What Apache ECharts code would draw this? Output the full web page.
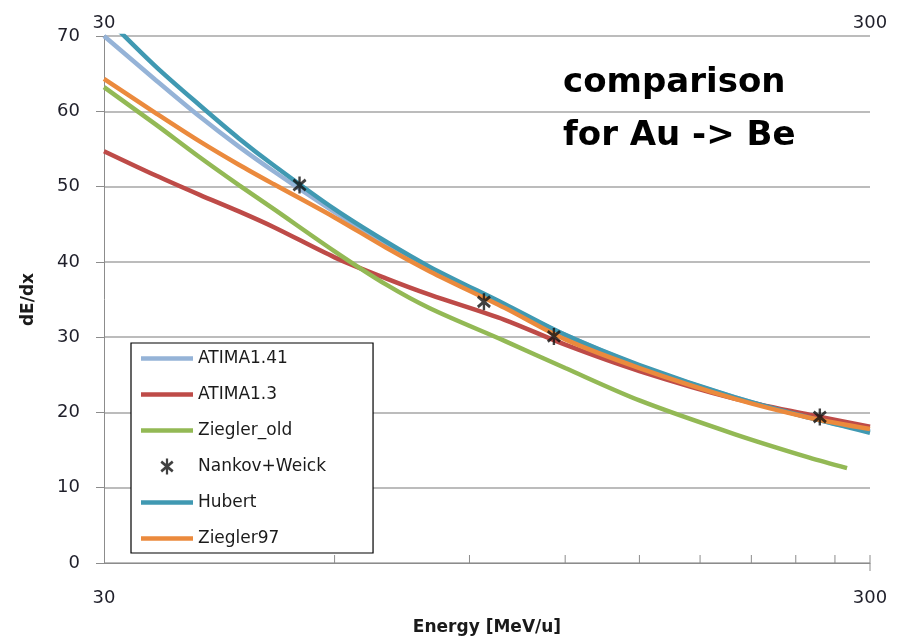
<!DOCTYPE html>
<html>
<head>
<meta charset="utf-8">
<script src="https://cdn.jsdelivr.net/npm/echarts@6/dist/echarts.min.js"></script>
<style>
html,body{margin:0;padding:0;background:#fff;}
#chart{width:908px;height:642px;}
</style>
</head>
<body>
<div id="chart"></div>
<script>
// ---- data ----
var energies = [30, 35, 40, 45, 50, 60, 70, 80, 100, 120, 150, 200, 250, 300];
var energiesOld = [30, 35, 40, 45, 50, 60, 70, 80, 100, 120, 150, 200, 250, 280];
var atima141 = [70.0, 64.2, 59.3, 55.3, 52.0, 46.6, 42.4, 39.1, 34.2, 30.3, 26.2, 22.0, 19.3, 17.5];
var atima13 = [54.7, 51.5, 48.9, 46.7, 44.6, 40.6, 37.8, 35.6, 32.3, 29.0, 25.5, 21.8, 19.7, 18.1];
var zieglerOld = [63.2, 58.3, 53.9, 50.2, 47.0, 41.4, 37.0, 33.8, 29.5, 25.9, 21.6, 17.1, 14.0, 12.6];
var hubert = [72.7, 66.0, 60.8, 56.4, 52.8, 47.0, 42.7, 39.3, 34.4, 30.3, 26.3, 22.0, 19.3, 17.3];
var ziegler97 = [64.3, 59.8, 56.0, 52.9, 50.3, 45.9, 41.9, 38.7, 33.9, 29.7, 25.9, 21.8, 19.3, 17.8];
var nankovE = [54, 94, 116, 258];
var nankovV = [50.2, 34.7, 30.1, 19.4];
var seriesNames = ['ATIMA1.41', 'ATIMA1.3', 'Ziegler_old', 'Nankov+Weick', 'Hubert', 'Ziegler97'];
var xLabels = [30, 300];
var minorTicks = [60, 90, 120, 150, 180, 210, 240, 270];
var titleLines = ['comparison', 'for Au -> Be'];

function pairs(xs, ys) { return xs.map(function (x, i) { return [x, ys[i]]; }); }

var FONT = 'DejaVu Sans';
var starPath = 'path://M43 0L57 0L57 100L43 100Z M19 12L91 74L81 88L9 26Z M81 12L91 26L19 88L9 74Z';
var lineIcon = 'path://M0 0L52 0L52 4.5L0 4.5Z';

function lineSeries(name, data, color) {
  return {
    name: name, type: 'line', data: data, smooth: 0.3,
    symbol: 'none', showSymbol: false, clip: true,
    lineStyle: { color: color, width: 4.5 }, itemStyle: { color: color },
    emphasis: { disabled: true }
  };
}

var chart = echarts.init(document.getElementById('chart'), null, { renderer: 'canvas' });
chart.setOption({
  animation: false,
  backgroundColor: '#ffffff',
  grid: { left: 104, right: 38, top: 36, bottom: 79, containLabel: false },
  xAxis: [{
    type: 'log', logBase: 10, min: 30, max: 300, position: 'bottom',
    name: 'Energy [MeV/u]', nameLocation: 'middle', nameGap: 56,
    nameTextStyle: { fontFamily: FONT, fontWeight: 'bold', fontSize: 17, color: '#1a1a1a' },
    axisLine: { show: true, lineStyle: { color: '#8c8c8c', width: 1 } },
    axisTick: { show: false },
    splitLine: { show: false },
    minorTick: { show: false },
    axisLabel: {
      show: true, showMinLabel: true, showMaxLabel: true, margin: 26,
      fontFamily: FONT, fontSize: 18, color: '#1f1f2a',
      formatter: function (v) { var r = Math.round(v); return xLabels.indexOf(r) >= 0 ? String(r) : ''; }
    }
  }, {
    type: 'log', logBase: 10, min: 30, max: 300, position: 'top',
    axisLine: { show: false }, axisTick: { show: false }, splitLine: { show: false },
    axisLabel: {
      show: true, showMinLabel: true, showMaxLabel: true, margin: 4,
      fontFamily: FONT, fontSize: 18, color: '#1f1f2a',
      formatter: function (v) { var r = Math.round(v); return xLabels.indexOf(r) >= 0 ? String(r) : ''; }
    }
  }],
  yAxis: {
    type: 'value', min: 0, max: 70, interval: 10,
    name: 'dE/dx', nameLocation: 'middle', nameGap: 67, nameRotate: 90,
    nameTextStyle: { fontFamily: FONT, fontWeight: 'bold', fontSize: 17, color: '#1a1a1a' },
    axisLine: { show: true, lineStyle: { color: '#8c8c8c', width: 1 } },
    axisTick: { show: true, inside: false, length: 8, lineStyle: { color: '#8c8c8c' } },
    splitLine: { show: true, lineStyle: { color: '#a6a6a6', width: 1.5 } },
    axisLabel: { margin: 24, fontFamily: FONT, fontSize: 18, color: '#1f1f2a' }
  },
  legend: {
    orient: 'vertical', left: 131, top: 343,
    padding: [7, 47, 6, 10], itemGap: 19, itemWidth: 52, itemHeight: 16,
    symbolKeepAspect: true,
    backgroundColor: '#ffffff', borderColor: '#000000', borderWidth: 1.2, borderRadius: 0,
    textStyle: { fontFamily: FONT, fontSize: 17, color: '#1b1b1b' },
    data: seriesNames.map(function (n, i) { return { name: n, icon: i === 3 ? starPath : lineIcon }; }),
    selectedMode: false, z: 10
  },
  graphic: [
    { type: 'text', left: 563, top: 66, z: 20,
      style: { text: titleLines[0], font: 'bold 34px "' + FONT + '"', fill: '#000' } },
    { type: 'text', left: 563, top: 119, z: 20,
      style: { text: titleLines[1], font: 'bold 34px "' + FONT + '"', fill: '#000' } }
  ],
  series: [
    lineSeries(seriesNames[0], pairs(energies, atima141), '#95B3D7'),
    lineSeries(seriesNames[1], pairs(energies, atima13), '#BE4B48'),
    lineSeries(seriesNames[2], pairs(energiesOld, zieglerOld), '#93B955'),
    {
      name: seriesNames[3], type: 'scatter', data: pairs(nankovE, nankovV),
      symbol: starPath, symbolSize: 17, symbolKeepAspect: true, z: 5,
      itemStyle: { color: '#111111' }, emphasis: { disabled: true }
    },
    lineSeries(seriesNames[4], pairs(energies, hubert), '#4099B2'),
    lineSeries(seriesNames[5], pairs(energies, ziegler97), '#EB8A3D'),
    {
      type: 'custom', silent: true, xAxisIndex: 0, yAxisIndex: 0,
      data: minorTicks.map(function (t) { return [t, 0]; }),
      renderItem: function (params, api) {
        var p = api.coord([api.value(0), 0]);
        return { type: 'line', shape: { x1: p[0], y1: p[1], x2: p[0], y2: p[1] - 8 },
                 style: { stroke: '#8c8c8c', lineWidth: 1 } };
      }
    },
    {
      type: 'custom', silent: true, xAxisIndex: 0, yAxisIndex: 0,
      data: [[300, 0]],
      renderItem: function (params, api) {
        var p = api.coord([api.value(0), 0]);
        return { type: 'line', shape: { x1: p[0], y1: p[1] - 8, x2: p[0], y2: p[1] + 8 },
                 style: { stroke: '#8c8c8c', lineWidth: 1 } };
      }
    }
  ]
});
</script>
</body>
</html>
